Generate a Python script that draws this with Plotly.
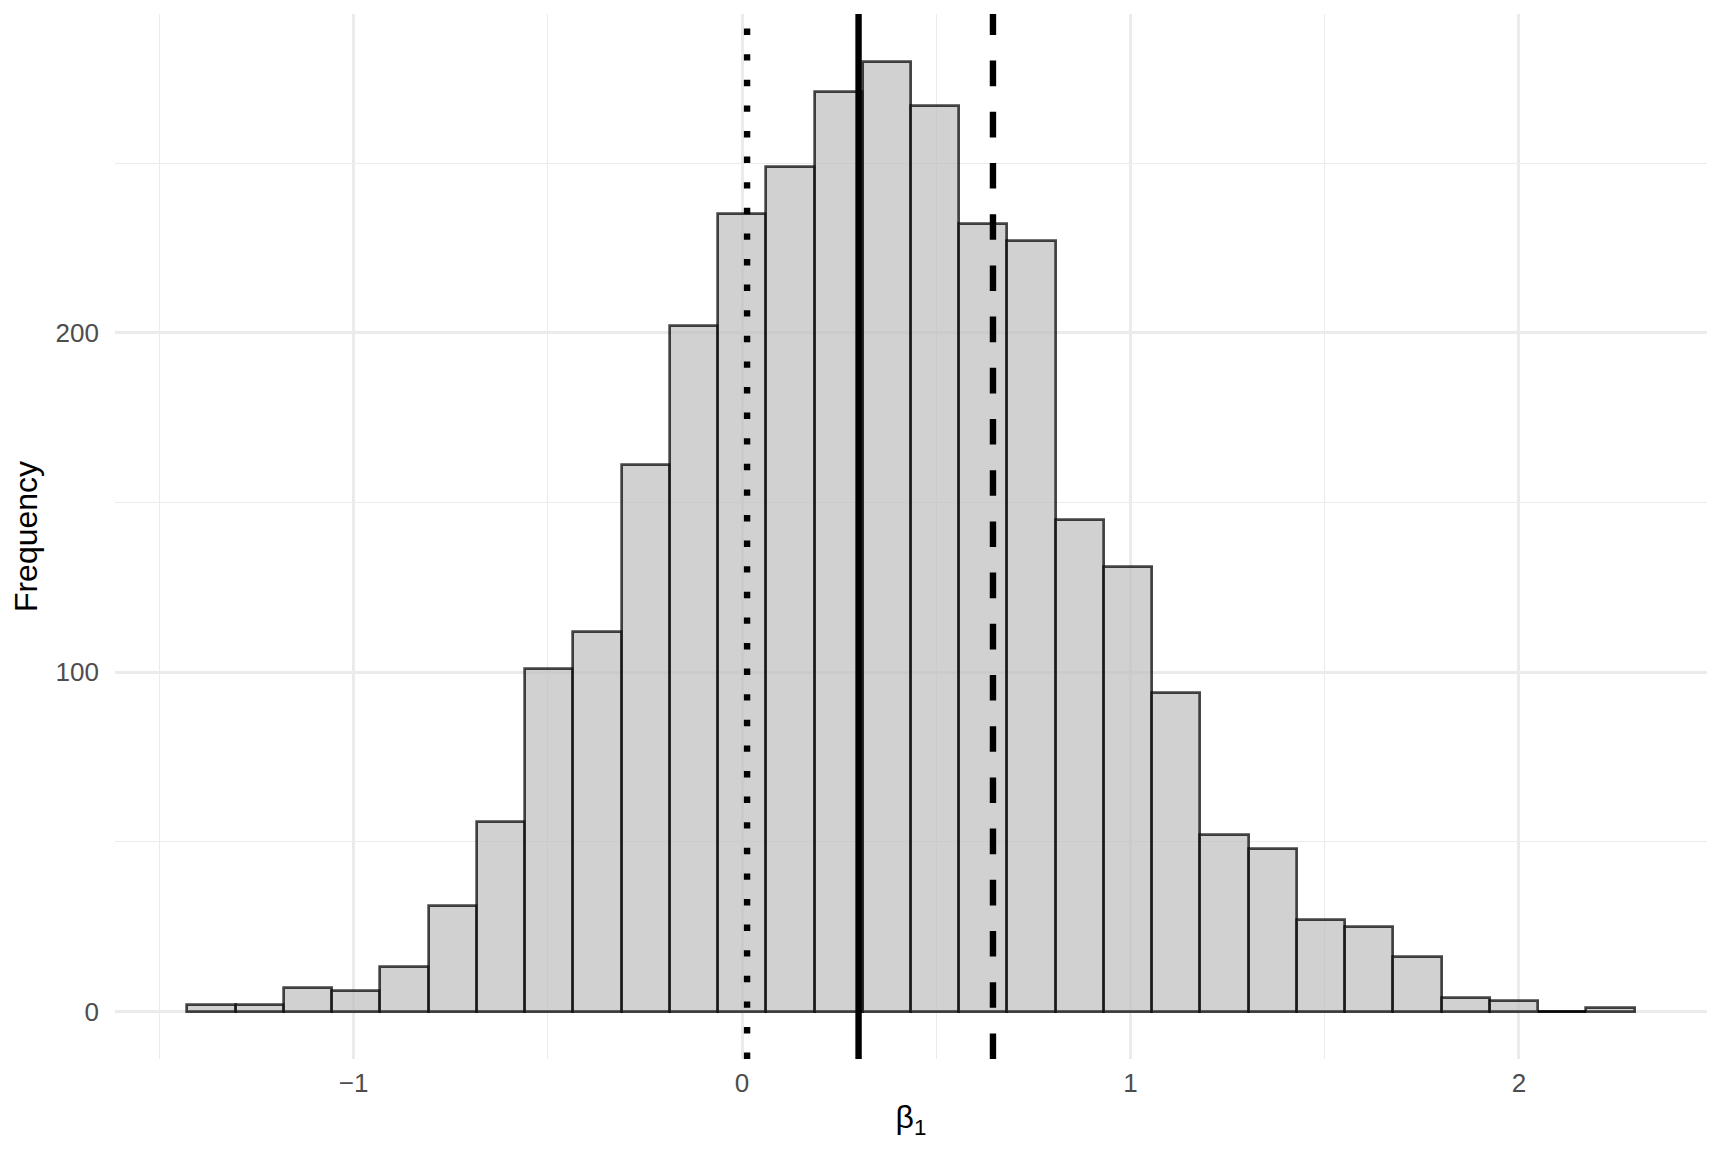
import plotly.graph_objects as go

# ---- data ----
bin_start = -1.428          # left edge of the first bin
bin_width = 0.1242          # width of each bin
counts = [2, 2, 7, 6, 13, 31, 56, 101, 112, 161, 202, 235, 249, 271, 280,
          267, 232, 227, 145, 131, 94, 52, 48, 27, 25, 16, 4, 3, 0, 1]

vline_x = [0.013, 0.300, 0.646]
vline_style = ["dot", "solid", "dash"]

x_ticks = [-1, 0, 1, 2]
y_ticks = [0, 100, 200]

x_title = "β<sub>1</sub>"
y_title = "Frequency"

# ---- derived ----
n = len(counts)
centers = [bin_start + bin_width * (i + 0.5) for i in range(n)]
x_lo = bin_start
x_hi = bin_start + bin_width * n
pad_x = 0.05 * (x_hi - x_lo)
y_hi = max(counts)
pad_y = 0.05 * y_hi

FONT = "Liberation Sans, Arial, Helvetica, sans-serif"
GRID = "#EBEBEB"
LW = 6.4
dash_map = {
    "dot": f"{LW}px,{3*LW}px",
    "dash": f"{4*LW}px,{4*LW}px",
    "solid": "solid",
}

fig = go.Figure()
fig.add_trace(go.Bar(
    x=centers, y=counts, width=bin_width,
    marker=dict(color="rgba(190,190,190,0.7)",
                line=dict(color="rgba(0,0,0,0.72)", width=2.7)),
    showlegend=False, hoverinfo="x+y",
))

# zero-height bins are drawn by ggplot as a flat outline
for c, v in zip(centers, counts):
    if v == 0:
        fig.add_trace(go.Scatter(
            x=[c - bin_width / 2, c + bin_width / 2], y=[0, 0], mode="lines",
            line=dict(color="rgba(0,0,0,0.9)", width=2.7),
            showlegend=False, hoverinfo="skip",
        ))

shapes = []
for xv, st in zip(vline_x, vline_style):
    shapes.append(dict(type="line", xref="x", yref="paper",
                       x0=xv, x1=xv, y0=0, y1=1,
                       line=dict(color="black", width=LW, dash=dash_map[st])))

# the page body adds an 8px margin; size the figure to compensate
fig.update_layout(
    width=1712, height=1153,
    margin=dict(l=107, r=13, t=6, b=102, autoexpand=False),
    paper_bgcolor="white", plot_bgcolor="white",
    shapes=shapes, bargap=0,
    font=dict(family=FONT, color="#4D4D4D", size=26),
)

fig.update_xaxes(
    range=[x_lo - pad_x, x_hi + pad_x],
    tickmode="array", tickvals=x_ticks,
    ticktext=[str(t).replace("-", "\u2212") for t in x_ticks],
    tickfont=dict(family=FONT, size=26, color="#4D4D4D"),
    ticks="", ticklabelstandoff=6,
    showgrid=True, gridcolor=GRID, gridwidth=2.6,
    minor=dict(dtick=0.5, tick0=0, showgrid=True, gridcolor=GRID, gridwidth=1.3),
    zeroline=False, showline=False,
    title=dict(text=x_title, font=dict(family=FONT, size=32, color="black"), standoff=8),
    automargin=False,
)
fig.update_yaxes(
    range=[-pad_y, y_hi + pad_y],
    tickmode="array", tickvals=y_ticks,
    tickfont=dict(family=FONT, size=26, color="#4D4D4D"),
    ticks="", ticklabelstandoff=15,
    showgrid=True, gridcolor=GRID, gridwidth=2.6,
    minor=dict(dtick=50, tick0=0, showgrid=True, gridcolor=GRID, gridwidth=1.3),
    zeroline=False, showline=False,
    title=dict(text=y_title, font=dict(family=FONT, size=32, color="black"), standoff=9),
    automargin=False,
)

fig.write_html("out.html")
